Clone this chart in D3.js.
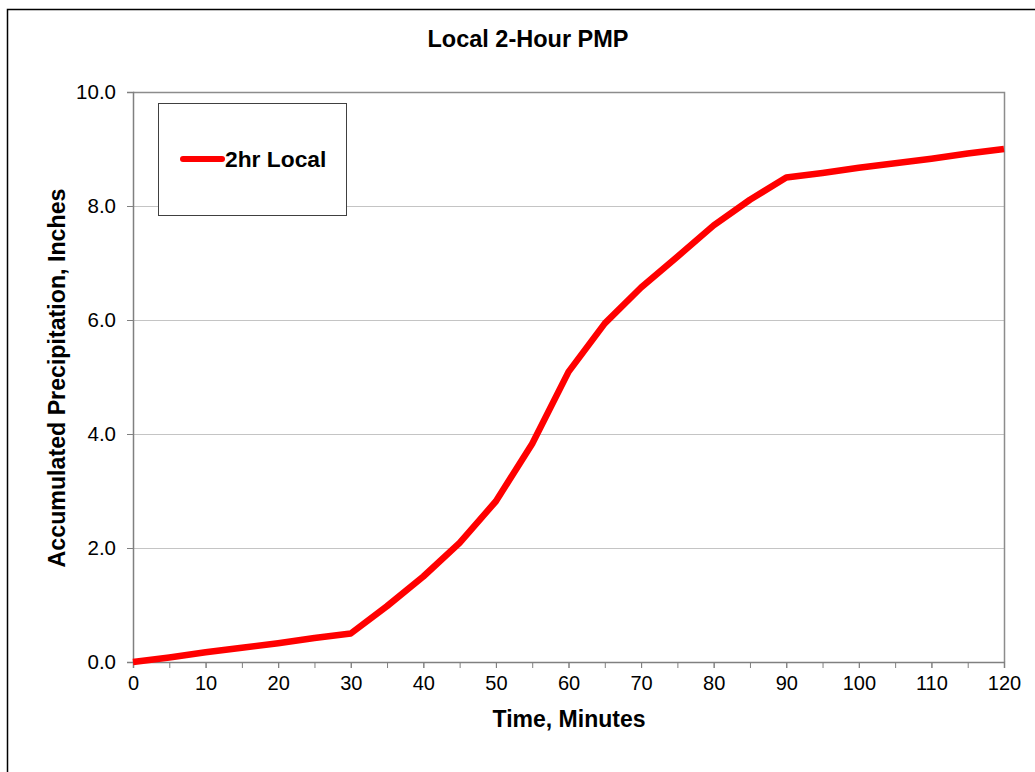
<!DOCTYPE html>
<html>
<head>
<meta charset="utf-8">
<script src="https://cdn.jsdelivr.net/npm/d3@7"></script>
<style>
  html, body { margin: 0; padding: 0; background: #fff; }
  svg { display: block; font-family: "Liberation Sans", Arial, sans-serif; }
</style>
</head>
<body>
<svg id="chart" width="1035" height="772"></svg>
<script>
// Accumulated precipitation for the local 2-hour PMP storm, 5-minute steps
const minutes = [0, 5, 10, 15, 20, 25, 30, 35, 40, 45, 50, 55, 60,
                 65, 70, 75, 80, 85, 90, 95, 100, 105, 110, 115, 120];
const inches  = [0, 0.08, 0.17, 0.25, 0.33, 0.42, 0.50, 0.98, 1.50, 2.09, 2.82, 3.83, 5.09,
                 5.94, 6.57, 7.11, 7.66, 8.11, 8.50, 8.58, 8.67, 8.75, 8.83, 8.92, 9.00];
const xTicks = [0, 10, 20, 30, 40, 50, 60, 70, 80, 90, 100, 110, 120];
const xMinorTicks = d3.range(0, 121, 5);
const yTicks = [0, 2, 4, 6, 8, 10];
const seriesName = "2hr Local";

const svg = d3.select("#chart");
const W = 1035, H = 772;
const m = { left: 133, right: 1004, top: 92, bottom: 662 };

const x = d3.scaleLinear().domain([0, 120]).range([m.left, m.right]);
const y = d3.scaleLinear().domain([0, 10]).range([m.bottom, m.top]);

// outer chart frame (top and left edges visible)
svg.append("path")
  .attr("d", `M7.5,${H} L7.5,9.5 L${W},9.5`)
  .attr("fill", "none").attr("stroke", "#000").attr("stroke-width", 1.5);

// horizontal gridlines
svg.append("g").selectAll("line")
  .data(yTicks.filter(d => d > 0 && d < 10))
  .join("line")
  .attr("x1", m.left).attr("x2", m.right)
  .attr("y1", d => Math.round(y(d)) + 0.5).attr("y2", d => Math.round(y(d)) + 0.5)
  .attr("stroke", "#c4c4c4").attr("stroke-width", 1);

// plot-area top and right edges
svg.append("path")
  .attr("d", `M${m.left},${m.top + 0.5} L${m.right + 0.5},${m.top + 0.5} L${m.right + 0.5},${m.bottom}`)
  .attr("fill", "none").attr("stroke", "#8c8c8c").attr("stroke-width", 1.5);

// y axis
const yAxis = svg.append("g")
  .attr("transform", `translate(${m.left},0)`)
  .call(d3.axisLeft(y).tickValues(yTicks).tickFormat(d3.format(".1f")).tickSizeOuter(0).tickSize(6).tickPadding(11));
yAxis.select(".domain").attr("stroke", "#808080").attr("stroke-width", 1.5);
yAxis.selectAll(".tick line").attr("stroke", "#808080");
yAxis.selectAll("text").attr("font-size", 20.5).attr("fill", "#000")
  .attr("font-family", "'Liberation Sans', Arial, sans-serif");

// x axis: minor ticks every 5 minutes, labels every 10
const xMinor = svg.append("g")
  .attr("transform", `translate(0,${m.bottom})`)
  .call(d3.axisBottom(x).tickValues(xMinorTicks).tickFormat("").tickSizeOuter(0).tickSize(6));
xMinor.select(".domain").remove();
xMinor.selectAll(".tick line").attr("stroke", "#808080");

const xAxis = svg.append("g")
  .attr("transform", `translate(0,${m.bottom})`)
  .call(d3.axisBottom(x).tickValues(xTicks).tickFormat(d3.format("d")).tickSizeOuter(0).tickSize(6).tickPadding(8));
xAxis.select(".domain").attr("stroke", "#808080").attr("stroke-width", 1.5);
xAxis.selectAll(".tick line").attr("stroke", "#808080");
xAxis.selectAll("text").attr("font-size", 20).attr("fill", "#000")
  .attr("font-family", "'Liberation Sans', Arial, sans-serif");

// series line
const line = d3.line().x((d, i) => x(minutes[i])).y(d => y(d));
svg.append("path")
  .datum(inches)
  .attr("d", line)
  .attr("fill", "none")
  .attr("stroke", "#ff0000")
  .attr("stroke-width", 6.5)
  .attr("stroke-linejoin", "round")
  .attr("stroke-linecap", "butt");

// titles
svg.append("text")
  .attr("x", 528).attr("y", 47)
  .attr("text-anchor", "middle").attr("font-weight", "bold").attr("font-size", 23.5)
  .text("Local 2-Hour PMP");

svg.append("text")
  .attr("x", 569).attr("y", 727)
  .attr("text-anchor", "middle").attr("font-weight", "bold").attr("font-size", 23)
  .text("Time, Minutes");

svg.append("text")
  .attr("transform", "translate(65,378) rotate(-90)")
  .attr("text-anchor", "middle").attr("font-weight", "bold").attr("font-size", 23.2)
  .text("Accumulated Precipitation, Inches");

// legend
const lg = svg.append("g");
lg.append("rect")
  .attr("x", 158.5).attr("y", 103.5).attr("width", 188).attr("height", 112)
  .attr("fill", "#fff").attr("stroke", "#404040").attr("stroke-width", 1);
lg.append("line")
  .attr("x1", 183).attr("x2", 222).attr("y1", 159).attr("y2", 159)
  .attr("stroke", "#ff0000").attr("stroke-width", 6).attr("stroke-linecap", "round");
lg.append("text")
  .attr("x", 225).attr("y", 167)
  .attr("font-weight", "bold").attr("font-size", 22.8)
  .text(seriesName);
</script>
</body>
</html>
